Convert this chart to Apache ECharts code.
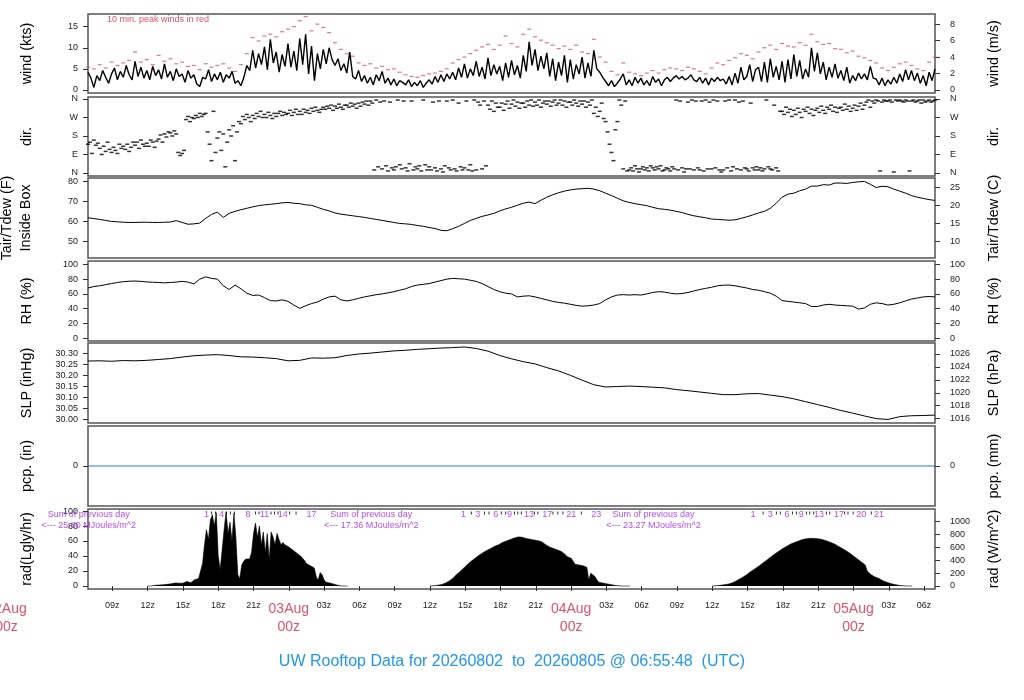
<!DOCTYPE html>
<html><head><meta charset="utf-8">
<script src="https://cdn.jsdelivr.net/npm/echarts@6/dist/echarts.min.js"></script>
<style>html,body{margin:0;padding:0;background:#fff}#c{width:1024px;height:700px}</style>
</head><body><div id="c"></div>
<script>
const FONT = 'Liberation Sans, Arial, Helvetica, sans-serif';
const X_MIN = Date.UTC(2026,7,2,6,55,48);
const X_MAX = Date.UTC(2026,7,5,6,55,48);
const MINUTE = 60000;

// 15-min mean wind (kts) from X_MIN
const windKts = [
4.2,2.8,0.6,3.4, 2.2,4.6,3.0,1.6, 3.8,5.2,2.4,4.4, 3.0,5.8,3.6,2.4, 6.8,3.2,5.4,2.8, 4.6,2.4,5.6,3.4,
4.8,2.6,6.2,3.0, 4.4,2.2,5.0,3.2, 3.8,1.8,4.6,2.8, 3.6,1.4,0.8,3.0, 2.6,4.8,2.0,3.8, 2.4,4.2,1.8,3.6,
2.8,4.4,1.6,2.2, 1.0,3.0,5.8,4.6, 9.4,5.2,8.6,6.0, 10.2,4.8,12.0,6.4, 9.0,4.2,8.4,5.6,
11.0,5.4,9.2,4.6, 12.2,6.0,13.2,3.8, 10.4,2.2,8.6,5.0, 9.6,6.2,10.0,7.2, 5.8,7.4,4.6,6.2, 4.0,9.0,3.2,2.6,
4.6,2.0,3.4,1.6, 3.0,1.2,3.6,2.2, 4.4,1.6,2.8,1.2, 2.6,1.0,2.2,1.8, 1.2,2.4,0.8,1.8, 1.0,2.2,0.6,1.6,
2.4,1.4,3.2,1.8, 3.6,2.0,3.8,2.6, 4.2,2.4,5.2,3.0, 6.2,2.8,5.0,3.4, 6.8,3.2,5.4,2.6, 7.6,3.4,6.0,3.8,
5.6,2.2,6.4,3.0, 7.0,3.6,5.8,2.8, 8.2,4.4,11.4,5.8, 9.6,4.6,8.0,5.0, 8.8,3.2,7.4,2.2, 6.6,3.4,8.2,1.8,
7.2,2.6,6.0,3.8, 7.8,2.8,6.4,3.2, 9.4,5.0,4.2,3.0, 2.0,1.0,2.2,0.8, 1.6,2.6,3.8,1.2, 2.4,1.0,3.0,1.6,
2.8,1.2,2.2,1.0, 3.2,1.8,2.6,1.0, 2.4,3.0,2.0,2.8, 3.4,2.6,3.2,2.4, 2.8,3.6,2.4,2.0, 3.0,1.6,2.8,1.2,
2.8,2.0,3.0,2.2, 2.6,1.4,3.2,1.2, 4.0,1.6,5.4,2.4, 3.2,6.0,2.0,4.8, 5.4,2.0,6.6,1.8, 7.4,3.0,5.6,2.4,
6.8,1.8,7.2,2.6, 8.4,3.2,7.0,2.6, 5.0,3.0,10.0,4.4, 8.8,3.8,6.6,2.4, 5.4,3.0,6.2,2.8, 4.6,2.2,5.4,1.6,
3.4,2.2,4.0,2.6, 3.8,2.4,5.6,2.8, 2.6,1.2,2.8,1.0, 2.4,1.4,3.0,1.6, 3.8,2.0,4.8,2.4, 4.6,2.2,4.0,1.6,
3.4,1.0,4.2,2.2, 5.0
];
// 30-min peak wind (kts)
const gustKts = [
5.4,5.0, 6.0,5.2, 6.6,5.8, 6.4,7.0, 9.0,6.6, 7.2,6.0, 8.2,6.8, 7.4,6.2, 6.6,5.6, 5.8,4.8, 6.2,5.4, 5.8,6.2,
5.2,4.4, 6.0,8.6, 12.4,11.6, 12.8,13.2, 12.6,13.8,
14.4,15.0, 16.4,17.4, 14.0,15.6, 14.8,13.6, 11.2,9.6, 8.6,8.0, 6.4,5.8, 6.2,5.2, 5.6,4.8, 5.0,4.2, 3.6,3.2, 3.0,3.4,
3.8,4.0, 4.4,5.0, 6.4,7.2, 7.8,8.6, 9.4,10.2, 10.8,9.6, 10.6,12.8, 11.0,10.2, 13.2,14.4, 12.6,11.8, 11.2,10.6, 9.8,10.4,
9.6,10.6, 9.0,8.6, 12.0,7.8, 6.6,4.4, 3.6,6.4, 4.2,3.8, 3.4,4.0, 4.6,4.0, 4.8,5.2, 5.0,4.6, 5.4,5.0, 4.4,3.8,
5.2,6.4, 6.0,7.0, 7.6,8.6, 8.2,7.4, 9.0,10.0, 10.6,9.6, 11.0,10.4, 10.2,11.2, 10.6,13.2, 11.4,10.8, 11.0,9.8, 9.6,8.8,
9.2,8.0, 7.6,7.0, 6.4,5.2, 4.6,5.4, 6.2,6.6, 5.8,5.0, 4.6,6.6, 7.8
];
// 10-min wind direction (deg)
const windDir = [
140,150,95,160,135,145, 120,90,130,105,150,115, 100,125,110,95,140,120, 130,115,140,105,125,150,
135,150,120,160,140,130, 145,130,160,150,125,155, 165,185,150,190,175,200, 195,180,205,190,100,85,
95,110,260,275,250,270, 265,280,270,290,275,285, 290,200,140,60,300,100, 170,200,110,190,30,150,
210,180,230,60,200,250, 240,275,260,285,270,250, 280,265,290,275,300,270, 285,270,295,280,265,290,
275,290,300,280,295,285,
290,305,280,295,310,285, 300,285,310,295,305,290, 315,300,320,305,295,310, 320,310,325,315,330,305,
325,315,335,320,310,330, 330,320,340,325,335,315, 340,325,345,335,350,330, 350,340,15,355,30,345,
20,350,35,10,345,25, 15,30,355,40,20,350, 25,10,45,350,15,30, 20,35,10,355,40,15,
30,15,345,25,10,350, 20,5,35,350,25,15, 355,20,10,340,30,15, 25,350,15,40,10,355,
15,345,330,20,350,35, 330,310,350,300,340,320, 320,340,305,335,350,315, 335,355,325,345,315,340,
340,320,350,330,355,325, 345,330,355,320,340,350, 335,350,325,345,355,330, 340,355,330,350,320,345,
345,330,355,340,325,350, 335,350,320,345,330,355, 290,320,275,300,340,265, 250,200,140,100,60,210,
250,355,330,20,350,10, 15,25,10,35,20,5, 20,30,15,25,10,35, 25,15,30,20,35,10,
15,25,20,10,30,20, 355,15,350,25,5,20, 345,20,355,15,350,25, 15,350,10,355,20,345,
20,355,25,350,15,5, 15,350,25,355,10,30, 355,20,345,15,350,25, 20,10,340,25,15,30,
15,25,10,20,355,30, 20,15,330,25,10,300, 300,285,320,295,310,275, 305,285,315,295,270,310,
300,320,290,310,280,305, 315,295,325,305,290,320, 310,330,300,320,295,315, 320,305,335,310,325,300,
315,330,305,325,340,310, 330,345,355,320,350,340, 355,350,10,345,355,350, 350,355,345,5,355,350,
355,350,345,355,350,10, 350,355,345,350,355,340, 355,345,350,355,345,350, 355
];
// 30-min air temperature (F)
const tempF = [
61.8,61.4,61.0,60.5,60.0,59.8,59.6,59.5,59.5,59.6,59.6,59.5,59.5,59.6,59.7,60.4,59.5,58.6,58.8,59.2,
61.5,63.5,64.6,62.0,64.0,65.0,65.8,66.5,67.2,67.8,68.2,68.5,68.8,69.2,69.4,69.0,68.8,68.2,68.0,67.0,
66.0,65.2,64.2,63.6,63.2,62.8,62.4,62.0,61.5,61.0,60.5,60.0,59.5,59.0,58.8,58.5,58.0,57.6,57.0,56.5,
55.6,55.4,56.4,57.6,59.0,60.5,61.5,62.5,63.2,64.0,65.2,66.2,67.0,68.0,69.0,69.6,68.8,70.5,72.0,73.2,
74.2,75.0,75.6,76.0,76.2,76.4,76.0,75.2,74.0,72.8,71.5,70.2,69.4,68.8,68.3,67.8,67.0,66.3,66.0,65.6,
65.0,64.4,63.5,62.8,62.3,61.8,61.2,61.0,60.8,60.6,60.8,61.5,62.3,63.2,64.2,65.0,66.5,69.0,72.0,73.5,
74.0,75.2,76.0,77.5,77.5,78.2,78.0,79.0,79.0,78.8,79.3,79.6,79.8,78.4,76.8,77.4,77.2,76.0,75.0,74.0,
72.8,72.0,71.4,70.8,70.4
];
// 30-min relative humidity (%)
const rhPct = [
68,70,71,72.5,74,75.5,76.5,77.2,77.4,77, 76.2,75.8,75.5,75,75.4,76,77,76,73.5,80,
83,81,80,71,66,72,67,61,58,58.5, 55,51,50.5,52,50,45,40.5,44,47,49,
53,56,57,52,50.5,52,54,56,57.5,59, 60,61.5,63,65,67,70,72,73,74,76,
78,80,81,80.5,80,78.5,77,74,70,66, 63,61,60,56,57,57.5,56,54,52,50,
48.5,47.5,46,44.5,43.5,44,45,47,52,56, 58.5,59,58.5,59,58.5,60,62,63,62.5,61,
60,60.5,62,64,66,67.5,69,71,71.8,72, 71,69.5,68,66,65,63,61,57,51,50,
49,48,47,43,43,45,46,45,44.5,44, 43.5,39.5,41,46,48,47,45,46,48,50.5,
53,54.5,56,56.5,56
];
// hourly sea-level pressure (inHg)
const slpInHg = [
30.265,30.266,30.264,30.267,30.266,30.268,30.272,30.276,30.283,30.289,30.292,30.294,30.290,30.284,30.283,30.280,
30.276,30.266,30.268,30.279,30.278,30.280,30.290,30.297,30.301,30.306,30.311,30.314,30.318,30.321,30.324,30.326,
30.329,30.322,30.310,30.290,30.275,30.262,30.252,30.235,30.220,30.200,30.178,30.157,30.147,30.149,30.151,30.149,
30.146,30.143,30.135,30.130,30.124,30.118,30.112,30.112,30.116,30.117,30.110,30.103,30.093,30.080,30.067,30.054,
30.040,30.028,30.015,30.003,29.999,30.012,30.016,30.017,30.019
];
// hourly precipitation (in)
const pcpIn = [
0,0,0,0,0,0,0,0,0,0,0,0,0,0,0,0,0,0,0,0,0,0,0,0,0,0,0,0,0,0,0,0,0,0,0,0,0,
0,0,0,0,0,0,0,0,0,0,0,0,0,0,0,0,0,0,0,0,0,0,0,0,0,0,0,0,0,0,0,0,0,0,0,0
];
// 10-min solar radiation (Langley/hr), each day from 12:00z
const radStarts = ['2026-08-02T12:00Z','2026-08-03T12:00Z','2026-08-04T12:00Z'];
const radDay1 = [
0,0,0,0.8,1.0,1.2,1.3,1.5,1.7,2.0, 2.2,2.5,3.0,3.5,4.0,4.5,3.8,3.5,3.8,4.2,
6.0,5.0,4.5,6.5,8.5,7.0,10,12,30,55, 75,62,88,95,80,98,40,22,20,75,
99,70,85,60,97,65,15,10,28,33, 36,38,36,45,70,84,65,80,55,72,
45,70,35,72,65,55,70,62,55,58, 55,53,52,50,48,46,44,42,40,37,
34,30,28,27,25,24,12,8,18,15, 8,5,4.5,4,3,2.5,2,1,0.3,0, 0,0,0
];
const radDay2 = [
0,0,0.3,0.6,1.0,1.5,2.0,2.5,4.0,5.0, 7.0,9.0,11,14,16,18.5,21,23.5,26,28.5,
31,33,35,37,39,41,43,44.5,46,47.5, 49,50,51.5,53,54,55,57,58,59,60,
61,62,63,64,65,65.5,65.5,65,64,63.5, 63,62.5,62,61.5,61,60.5,60,59,57.5,55,
53,52,51,50,49,48,47,46,45,42, 39,38,37,33,29,28.5,28,27.5,27,26.5,
25,8,17,16,13,9,5,4.5,4,3.5, 3,2.8,2,1.5,1,0.6,0.2,0,0,0, 0,0,0
];
const radDay3 = [
0,0,0.3,0.6,0.9,1.2,1.6,2.0,2.5,3.2, 4,5,6.5,8,9.5,11,12.5,14,16,18,
20,22,23.5,25,27,29,31,33,35,37, 39,41,43,45,46.5,48,50,51.5,53,54.5,
56,57,58,59,60,61,62,62.5,63,63.5, 63.6,63.6,63.5,63.2,63,62.5,62,61.5,60.5,59.5,
58.5,57.5,56.5,55,53.5,52,50.5,49,47.5,46, 44,42,40,38,36,34,32,30,28,20,
18,15,13,12,11,10,9,7,6,5, 4,3.2,2.6,2,1.5,1,0.6,0.3,0,0, 0,0,0
];
// cumulative daily radiation labels (MJ/m^2) and separator ticks
const cumLabelTimes = ['2026-08-02T17:00Z','2026-08-02T18:17Z','2026-08-02T20:32Z','2026-08-02T21:56Z','2026-08-02T23:29Z','2026-08-03T01:56Z',
  '2026-08-03T14:51Z','2026-08-03T16:04Z','2026-08-03T17:35Z','2026-08-03T18:46Z','2026-08-03T20:25Z','2026-08-03T21:58Z','2026-08-04T00:01Z','2026-08-04T02:08Z',
  '2026-08-04T15:28Z','2026-08-04T16:56Z','2026-08-04T18:21Z','2026-08-04T19:34Z','2026-08-04T21:04Z','2026-08-04T22:46Z','2026-08-05T00:40Z','2026-08-05T02:10Z'];
const cumLabelTexts = ['1','4','8','11','14','17', '1','3','6','9','13','17','21','23', '1','3','6','9','13','17','20','21'];
const cumTickTimes = ['2026-08-02T17:26Z','2026-08-02T17:46Z','2026-08-02T18:42Z','2026-08-02T19:02Z','2026-08-02T19:23Z','2026-08-02T21:10Z','2026-08-02T21:28Z',
  '2026-08-02T22:29Z','2026-08-02T22:47Z','2026-08-02T23:05Z','2026-08-03T00:04Z','2026-08-03T00:37Z',
  '2026-08-03T15:31Z','2026-08-03T16:38Z','2026-08-03T17:01Z','2026-08-03T18:04Z','2026-08-03T18:26Z','2026-08-03T19:11Z','2026-08-03T19:28Z',
  '2026-08-03T19:46Z','2026-08-03T20:53Z','2026-08-03T21:10Z','2026-08-03T22:27Z','2026-08-03T22:52Z','2026-08-03T23:18Z','2026-08-04T00:52Z',
  '2026-08-04T16:19Z','2026-08-04T17:27Z','2026-08-04T17:47Z','2026-08-04T18:49Z','2026-08-04T19:09Z','2026-08-04T20:00Z','2026-08-04T20:17Z',
  '2026-08-04T20:37Z','2026-08-04T21:42Z','2026-08-04T21:59Z','2026-08-04T23:15Z','2026-08-04T23:32Z','2026-08-04T23:58Z','2026-08-05T01:31Z'];
const sumTimes = ['2026-08-02T07:00Z','2026-08-03T07:00Z','2026-08-04T07:00Z'];
const sumValues = ['25.80','17.36','23.27'];
// x-axis ticks
const xTickTimes = ['2026-08-02T09:00Z','2026-08-02T12:00Z','2026-08-02T15:00Z','2026-08-02T18:00Z','2026-08-02T21:00Z',
  '2026-08-03T00:00Z','2026-08-03T03:00Z','2026-08-03T06:00Z','2026-08-03T09:00Z','2026-08-03T12:00Z','2026-08-03T15:00Z','2026-08-03T18:00Z','2026-08-03T21:00Z',
  '2026-08-04T00:00Z','2026-08-04T03:00Z','2026-08-04T06:00Z','2026-08-04T09:00Z','2026-08-04T12:00Z','2026-08-04T15:00Z','2026-08-04T18:00Z','2026-08-04T21:00Z',
  '2026-08-05T00:00Z','2026-08-05T03:00Z','2026-08-05T06:00Z'];
const offDayLabel = {time:'2026-08-02T00:00Z', text:'02Aug\n00z'};
const windTicksL = [0,5,10,15], windTicksR = [0,2,4,6,8];
const dirTicks = [0,90,180,270,360], dirNames = ['N','E','S','W','N'];
const tempTicksL = [50,60,70,80], tempTicksR = [10,15,20,25];
const rhTicks = [0,20,40,60,80,100];
const slpTicksL = [30.00,30.05,30.10,30.15,30.20,30.25,30.30], slpTicksR = [1016,1018,1020,1022,1024,1026];
const radTicksL = [0,20,40,60,80,100], radTicksR = [0,200,400,600,800,1000];

const tp = s => Date.parse(s);
const ser = (start, stepMin, arr) => arr.map((v,i) => [start + i*stepMin*MINUTE, v]);

const gridTops = [14,97,178,261,343,426,509], gridH = [79,79,80,80,80,80,80];
const grids = gridTops.map((t,i)=>({left:88, width:847, top:t, height:gridH[i], show:true, borderColor:'#555', borderWidth:1.5,
  containLabel:false, outerBoundsMode:'none'}));

const xTicks = xTickTimes.map(tp);
const xAxes = grids.map((g,i)=>({
  type:'value', gridIndex:i, min:X_MIN, max:X_MAX, show: i===6, scale:true,
  axisLine:{show:false}, splitLine:{show:false},
  axisTick:{show:true, customValues:xTicks, length:5, lineStyle:{color:'#333'}},
  axisLabel:{customValues:xTicks, margin:11, formatter: v=>{
      const d=new Date(v), h=d.getUTCHours();
      if(h===0) return '{d|'+String(d.getUTCDate()).padStart(2,'0')+'Aug}\n{d|00z}';
      return '{h|'+String(h).padStart(2,'0')+'z}';
    },
    rich:{d:{fontSize:14, lineHeight:18, color:'#DF536B', fontFamily:FONT}, h:{fontSize:9, lineHeight:12, color:'#222', fontFamily:FONT}}}
}));

function yax(gi, pos, min, max, ticks, name, fmt, lh){
  return {type:'value', gridIndex:gi, position:pos, min:min, max:max, scale:true,
    axisLine:{show:false}, splitLine:{show:false},
    axisTick:{show:true, customValues:ticks, length:5, lineStyle:{color:'#333'}},
    axisLabel:{customValues:ticks, fontSize:9, color:'#222', fontFamily:FONT, margin: pos==='left'?10:15, formatter: fmt || (v=>String(v))},
    name:name, nameLocation:'middle', nameRotate:90, nameGap: pos==='left'?52:50,
    nameTextStyle:{fontSize:14.4, color:'#000', fontFamily:FONT, lineHeight: lh||18}};
}
const KT_MS = 1.94384, LY_W = 11.622, INHG_HPA = 33.8639;
const dirFmt = v => dirNames[dirTicks.indexOf(Math.round(v))];
const yAxes = [
  yax(0,'left',-0.72,18.0,windTicksL,'wind (kts)'),
  yax(0,'right',-0.72/KT_MS,18.0/KT_MS,windTicksR,'wind (m/s)'),
  yax(1,'left',-14.6,369.7,dirTicks,'dir.',dirFmt),
  yax(1,'right',-14.6,369.7,dirTicks,'dir.',dirFmt),
  yax(2,'left',41.9,81.5,tempTicksL,'Tair/Tdew (F)\nInside Box',null,19),
  yax(2,'right',(41.9-32)/1.8,(81.5-32)/1.8,tempTicksR,'Tair/Tdew (C)'),
  yax(3,'left',-3.6,104.5,rhTicks,'RH (%)'),
  yax(3,'right',-3.6,104.5,rhTicks,'RH (%)'),
  yax(4,'left',29.983,30.347,slpTicksL,'SLP (inHg)',v=>v.toFixed(2)),
  yax(4,'right',29.983*INHG_HPA,30.347*INHG_HPA,slpTicksR,'SLP (hPa)'),
  yax(5,'left',-1,1,[0],'pcp. (in)'),
  yax(5,'right',-25.4,25.4,[0],'pcp. (mm)'),
  yax(6,'left',-4.0,102.7,radTicksL,'rad(Lgly/hr)'),
  yax(6,'right',-4.0*LY_W,102.7*LY_W,radTicksR,'rad (W/m^2)')
];

const PURPLE = '#A020F0';
const line = (xi, yi, data, color) => ({type:'line', xAxisIndex:xi, yAxisIndex:yi, data:data, showSymbol:false, symbol:'none',
  lineStyle:{color:color||'#000', width:1}, itemStyle:{color:color||'#000'}, silent:true, animation:false});

const series = [
  Object.assign(line(0,0,ser(X_MIN,15,windKts)),{lineStyle:{color:'#000',width:1.4}}),
  {type:'scatter', xAxisIndex:0, yAxisIndex:0, data:ser(X_MIN,30,gustKts), symbol:'rect', symbolSize:[4,1.2], itemStyle:{color:'#DF536B'}, silent:true, animation:false},
  {type:'scatter', xAxisIndex:1, yAxisIndex:2, data:ser(X_MIN,10,windDir), symbol:'rect', symbolSize:[4,1.5], itemStyle:{color:'#000'}, silent:true, animation:false},
  line(2,4,ser(X_MIN,30,tempF)),
  line(3,6,ser(X_MIN,30,rhPct)),
  line(4,8,ser(X_MIN,60,slpInHg)),
  Object.assign(line(5,10,ser(X_MIN,60,pcpIn),'#2f74d0'),{lineStyle:{color:'#2f74d0',width:1.2}}),
];
[radDay1,radDay2,radDay3].forEach((arr,k)=>{
  series.push(Object.assign(line(6,12,ser(tp(radStarts[k]),10,arr)),{areaStyle:{color:'#000',opacity:1}, lineStyle:{color:'#000',width:0.6}}));
});
series.push({type:'scatter', xAxisIndex:6, yAxisIndex:12, silent:true, animation:false,
  data: cumLabelTimes.map((t,i)=>[tp(t),94.7,cumLabelTexts[i]]), symbolSize:1, itemStyle:{color:'rgba(0,0,0,0)'},
  label:{show:true, position:'inside', formatter:p=>p.value[2], color:PURPLE, fontSize:9, fontFamily:FONT}});
series.push({type:'scatter', xAxisIndex:6, yAxisIndex:12, silent:true, animation:false,
  data: cumTickTimes.map(t=>[tp(t),97.5]), symbol:'rect', symbolSize:[1,3], itemStyle:{color:'#000'}});
series.push({type:'scatter', xAxisIndex:6, yAxisIndex:12, silent:true, animation:false,
  data: sumTimes.map((t,i)=>[tp(t),88,sumValues[i]]), symbolSize:1, itemStyle:{color:'rgba(0,0,0,0)'},
  label:{show:true, position:'inside', formatter:p=>'Sum of previous day\n<--- '+p.value[2]+' MJoules/m^2', color:PURPLE, fontSize:9, lineHeight:10.5, align:'center', fontFamily:FONT}});

const chart = echarts.init(document.getElementById('c'), null, {renderer:'canvas'});
chart.setOption({
  animation:false, backgroundColor:'#fff', textStyle:{fontFamily:FONT},
  title:{text:'UW Rooftop Data for 20260802  to  20260805 @ 06:55:48  (UTC)', left:'center', top:649,
    textStyle:{color:'#2297E6', fontSize:16, fontWeight:'normal', fontFamily:FONT}},
  grid:grids, xAxis:xAxes, yAxis:yAxes, series:series,
  graphic:[{type:'text', left:107, top:15, style:{text:'10 min. peak winds in red', fill:'#DF536B', fontSize:9, fontFamily:FONT}}]
});
const px = chart.convertToPixel({xAxisIndex:6}, tp(offDayLabel.time));
chart.setOption({graphic:[
  {type:'text', left:107, top:15, style:{text:'10 min. peak winds in red', fill:'#DF536B', fontSize:9, fontFamily:FONT}},
  {type:'text', x:px, y:600, style:{text:offDayLabel.text, fill:'#DF536B', fontSize:14, lineHeight:18, align:'center', verticalAlign:'top', fontFamily:FONT}}
]});
</script></body></html>
